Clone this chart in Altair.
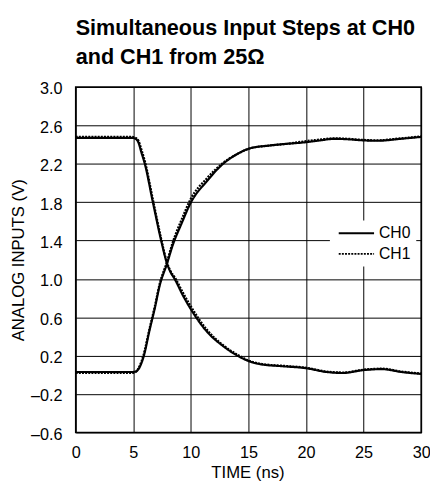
import altair as alt
import pandas as pd

# ---- data ----
fall_t = [0, 4.9, 5.2, 5.45, 5.7, 6.0, 6.7, 7.42, 7.93, 8.2, 8.64, 9.3, 9.97, 11.4, 12.8,
          14.2, 15.0, 16.1, 18.0, 20.0, 21.8, 23.2, 25.0, 26.6, 28.3, 30.0]
ch0_fall = [2.47, 2.47, 2.46, 2.42, 2.32, 2.20, 1.80, 1.40, 1.16, 1.08, 0.99, 0.83, 0.69, 0.45, 0.30,
            0.19, 0.145, 0.11, 0.09, 0.07, 0.03, 0.02, 0.05, 0.06, 0.03, 0.01]
ch1_fall = [2.48, 2.48, 2.47, 2.44, 2.35, 2.23, 1.83, 1.42, 1.17, 1.09, 1.01, 0.86, 0.72, 0.47, 0.31,
            0.20, 0.15, 0.115, 0.095, 0.075, 0.035, 0.025, 0.055, 0.065, 0.035, 0.015]

rise_t = [0, 4.9, 5.2, 5.45, 5.87, 6.44, 6.86, 7.29, 7.93, 8.42, 9.2, 9.97, 11.4, 12.8, 14.0,
          15.1, 16.8, 18.5, 19.6, 21.0, 22.5, 23.7, 24.8, 26.2, 28.2, 30.0]
ch0_rise = [0.03, 0.03, 0.035, 0.06, 0.18, 0.48, 0.69, 0.93, 1.16, 1.35, 1.58, 1.79, 2.02, 2.20, 2.30,
            2.36, 2.39, 2.41, 2.42, 2.44, 2.46, 2.455, 2.445, 2.44, 2.46, 2.48]
ch1_rise = [0.02, 0.02, 0.03, 0.07, 0.20, 0.50, 0.71, 0.95, 1.18, 1.38, 1.62, 1.83, 2.05, 2.21, 2.30,
            2.36, 2.39, 2.41, 2.43, 2.45, 2.465, 2.46, 2.45, 2.445, 2.465, 2.485]

series_names = ["CH0", "CH1"]
x_ticks = [0, 5, 10, 15, 20, 25, 30]
y_ticks = [-0.6, -0.2, 0.2, 0.6, 1.0, 1.4, 1.8, 2.2, 2.6, 3.0]

rows = []
for name, tt, vv, trace in [
    ("CH0", fall_t, ch0_fall, "CH0 fall"),
    ("CH0", rise_t, ch0_rise, "CH0 rise"),
    ("CH1", fall_t, ch1_fall, "CH1 fall"),
    ("CH1", rise_t, ch1_rise, "CH1 rise"),
]:
    for t, v in zip(tt, vv):
        rows.append({"t": t, "v": v, "series": name, "trace": trace})
df = pd.DataFrame(rows)

FONT = "Liberation Sans"

chart = alt.Chart(df).mark_line(color="black", strokeWidth=2.2, interpolate="monotone").encode(
    x=alt.X("t:Q",
            scale=alt.Scale(domain=[0, 30], nice=False),
            axis=alt.Axis(values=x_ticks, title="TIME (ns)", grid=True, ticks=False, domain=False,
                          labelPadding=13, labelFontSize=16.5, labelFont=FONT, labelColor="black",
                          titleFont=FONT, titleFontSize=17, titleFontWeight="normal", titleColor="black",
                          titleX=175, titleY=46, titleBaseline="alphabetic", titleAlign="center",
                          gridColor="black", gridWidth=1, gridOpacity=1, labelFlush=False)),
    y=alt.Y("v:Q",
            scale=alt.Scale(domain=[-0.6, 3.0], nice=False, zero=False),
            axis=alt.Axis(values=y_ticks, title="ANALOG INPUTS (V)", grid=True, ticks=False, domain=False,
                          labelPadding=14, labelFontSize=16.5, labelFont=FONT, labelColor="black",
                          labelExpr="datum.value < 0 ? '\u2013' + format(-datum.value, '.1f') : format(datum.value, '.1f')",
                          labelOffset=2,
                          titleFont=FONT, titleFontSize=17, titleFontWeight="normal", titleColor="black",
                          titleX=-53, titleY=176, titleAngle=-90, titleBaseline="alphabetic", titleAlign="center",
                          gridColor="black", gridWidth=1, gridOpacity=1, labelFlush=False)),
    strokeDash=alt.StrokeDash("series:N",
                              scale=alt.Scale(domain=series_names, range=[[1, 0], [2, 1.2]]),
                              legend=alt.Legend(title=None, orient="none", legendX=259, legendY=136,
                                                fillColor="white", padding=5,
                                                symbolType="M-4.5,0H4.5", symbolSize=64, symbolOffset=14,
                                                symbolStrokeWidth=2, symbolStrokeColor="black",
                                                labelFont=FONT, labelFontSize=16, labelColor="black",
                                                labelOffset=15, rowPadding=5)),
    detail="trace:N",
).properties(
    width=352,
    height=352,
    autosize=alt.AutoSizeParams(type="none"),
    padding={"left": 69, "top": 76, "right": 9, "bottom": 49},
    title=alt.TitleParams(
        text=["Simultaneous Input Steps at CH0", "and CH1 from 25\u03a9"],
        font=FONT, fontSize=22, fontWeight="bold", color="black",
        anchor="start", frame="group", lineHeight=30, offset=12,
    ),
).configure_view(
    stroke="black", strokeWidth=1.6
)

chart.save("out.html", embed_options={"renderer": "svg", "actions": False})
